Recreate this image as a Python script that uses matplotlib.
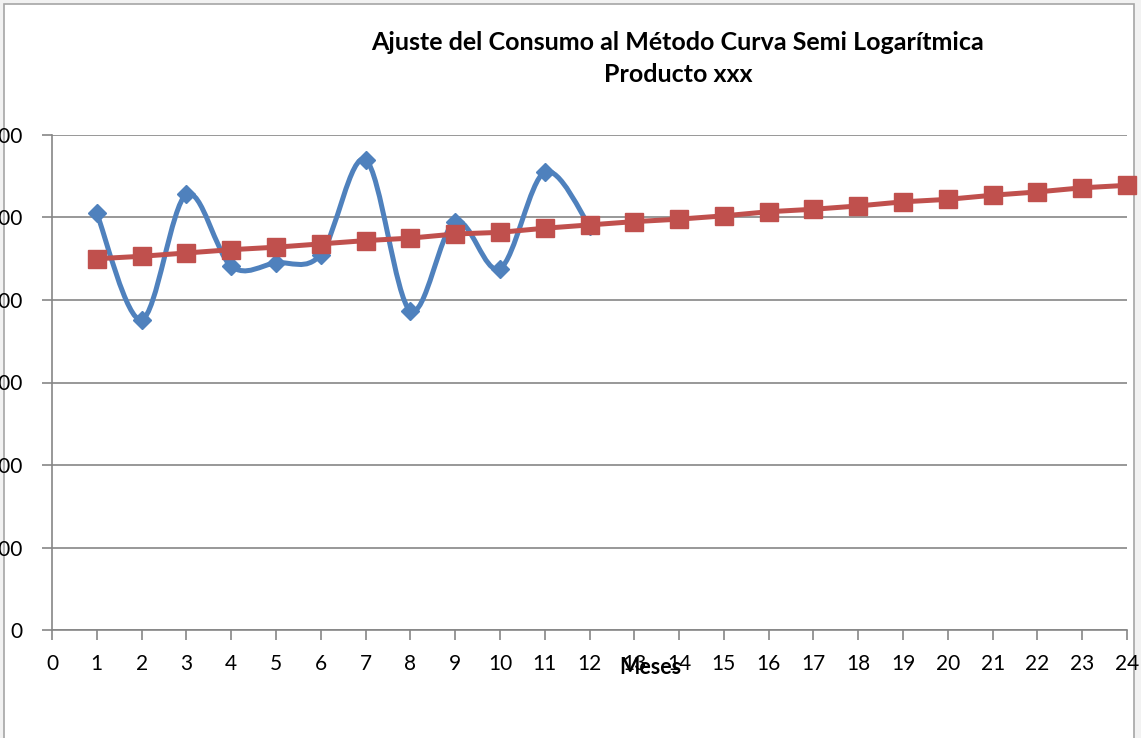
import numpy as np
import matplotlib.pyplot as plt
from matplotlib.path import Path
from matplotlib.patches import PathPatch, Rectangle

plt.rcParams['font.family'] = ['Lato', 'DejaVu Sans']

# data
meses_real = [1, 2, 3, 4, 5, 6, 7, 8, 9, 10, 11, 12]
consumo = [505, 376, 528, 441, 445, 455, 570, 387, 495, 438, 555, 490]
meses_ajuste = list(range(1, 25))
ajuste = [450, 453, 457, 461, 464, 468, 472, 475, 480, 482, 487, 491,
          495, 498, 502, 507, 510, 514, 519, 522, 527, 531, 536, 539]
xticks = list(range(0, 25))
yticks = [0, 100, 200, 300, 400, 500, 600]

azul = '#4f81bd'
rojo = '#c0504d'
gris = '#868686'


def smooth_path(x, y):
    # excel-like smoothed line: cubic bezier segments through the points
    pts = np.column_stack([x, y]).astype(float)
    n = len(pts)
    verts = [pts[0]]
    codes = [Path.MOVETO]
    for i in range(n - 1):
        p0 = pts[i - 1] if i > 0 else pts[i]
        p1 = pts[i]
        p2 = pts[i + 1]
        p3 = pts[i + 2] if i + 2 < n else pts[i + 1]
        c1 = p1 + (p2 - p0) / 6.0
        c2 = p2 - (p3 - p1) / 6.0
        verts += [c1, c2, p2]
        codes += [Path.CURVE4] * 3
    return Path(verts, codes)


fig = plt.figure(figsize=(11.41, 7.38), dpi=100)
fig.patch.set_facecolor('#f2f2f2')
fig.patches.append(Rectangle((4 / 1141, -0.01), 1130 / 1141, 1 - 4 / 738 + 0.01,
                             transform=fig.transFigure, facecolor='white',
                             edgecolor='#a6a6a6', lw=1.2, zorder=-5))

ax = fig.add_axes([52 / 1141, 1 - 630 / 738, (1127 - 52) / 1141, (630 - 135) / 738])
ax.set_facecolor('none')

ax.add_patch(PathPatch(smooth_path(meses_real, consumo), facecolor='none',
                       edgecolor=azul, lw=3.6, capstyle='round', zorder=3))
ax.plot(meses_real, consumo, linestyle='none', marker='D', markersize=9,
        color=azul, zorder=4)
ax.plot(meses_ajuste, ajuste, color=rojo, lw=3.6, marker='s', markersize=12.5,
        zorder=5, clip_on=False)

ax.set_xlim(0, 24)
ax.set_ylim(0, 600)
ax.set_xticks(xticks)
ax.set_yticks(yticks)
ax.tick_params(axis='both', colors=gris, labelcolor='black', labelsize=15,
               length=7, width=1.2, direction='out')
ax.tick_params(axis='y', pad=14)
ax.tick_params(axis='x', pad=10)
ax.grid(True, axis='y', color=gris, lw=1.2)
ax.set_axisbelow(True)
for side in ['top', 'right']:
    ax.spines[side].set_visible(False)
for side in ['left', 'bottom']:
    ax.spines[side].set_color(gris)
    ax.spines[side].set_linewidth(1.2)

fig.text(678 / 1141, 1 - 42 / 738, 'Ajuste del Consumo al Método Curva Semi Logarítmica',
         ha='center', va='center', fontsize=18, fontweight='bold')
fig.text(678 / 1141, 1 - 75 / 738, 'Producto xxx',
         ha='center', va='center', fontsize=18, fontweight='bold')
fig.text(650 / 1141, 1 - 668 / 738, 'Meses', ha='center', va='center',
         fontsize=15.5, fontweight='bold')

fig.savefig('out.png', dpi=100, facecolor=fig.get_facecolor())
